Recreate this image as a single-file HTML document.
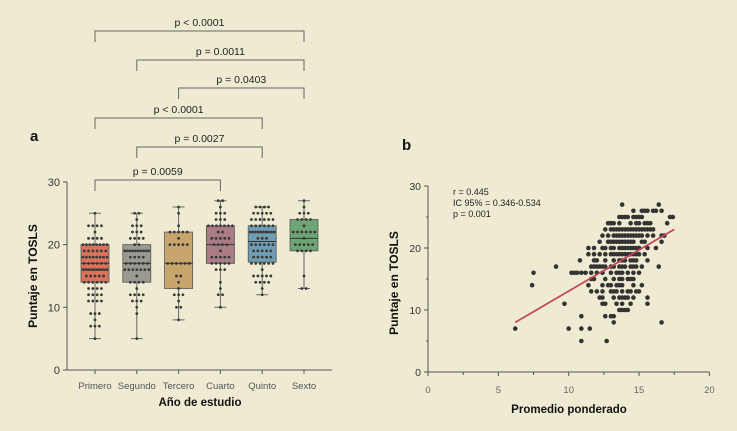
<!DOCTYPE html>
<html><head><meta charset="utf-8"><style>
html,body{margin:0;padding:0;background:#efebd3;}
svg{display:block;font-family:"Liberation Sans",sans-serif;}
</style></head><body>
<svg id="c" width="737" height="431" viewBox="0 0 737 431">
<rect width="737" height="431" fill="#efebd3"/>
<text x="30" y="141" font-size="15" font-weight="bold" fill="#111">a</text>
<text x="402" y="150" font-size="15" font-weight="bold" fill="#111">b</text>
<text transform="translate(37,276) rotate(-90)" text-anchor="middle" font-size="12" font-weight="bold" fill="#111">Puntaje en TOSLS</text>
<text x="200" y="406" text-anchor="middle" font-size="11.5" font-weight="bold" fill="#111">Año de estudio</text>
<text transform="translate(398,283) rotate(-90)" text-anchor="middle" font-size="12" font-weight="bold" fill="#111">Puntaje en TOSLS</text>
<text x="569" y="413" text-anchor="middle" font-size="11.5" font-weight="bold" fill="#111">Promedio ponderado</text>
<g id="A"></g><g id="B"></g>
<text x="453" y="195" font-size="9" fill="#222">r = 0.445</text>
<text x="453" y="206" font-size="9" fill="#222">IC 95% = 0.346-0.534</text>
<text x="453" y="217" font-size="9" fill="#222">p = 0.001</text>
</svg>
<script>
const categories=["Primero","Segundo","Tercero","Cuarto","Quinto","Sexto"];
const boxColors=["#d9735c","#9b9a92","#c9a56e","#a97d83","#6f9db3","#6ea574"];
const q1=[14,14,13,17,17.2,19];
const median=[17,17,17,20,20.5,21];
const q3=[20,20,22,23,23,24];
const whiskMin=[5,5,8,10,12,13];
const whiskMax=[25,25,26,27,26,27];
const dotCounts=[
 [[25,1],[23,4],[22,1],[21,4],[20,8],[19,6],[18,8],[17,6],[16,10],[15,5],[14,6],[13,4],[12,4],[11,4],[9,3],[8,1],[7,3],[5,1]],
 [[25,2],[24,1],[23,3],[22,3],[21,4],[20,2],[19,10],[18,4],[17,6],[16,7],[15,1],[14,4],[13,1],[12,4],[11,3],[10,1],[9,1],[5,1]],
 [[26,1],[25,1],[23,1],[22,5],[21,1],[20,5],[17,6],[15,2],[14,1],[13,1],[12,3],[11,1],[10,2],[8,1]],
 [[27,2],[26,1],[25,3],[24,3],[23,7],[22,2],[21,5],[20,4],[19,1],[18,5],[17,5],[16,3],[14,1],[13,1],[12,2],[10,1]],
 [[26,4],[25,5],[24,6],[23,6],[22,10],[21,3],[20,6],[19,5],[18,5],[17,6],[16,1],[15,5],[14,4],[13,1],[12,1]],
 [[27,1],[26,1],[25,3],[24,4],[23,1],[22,6],[21,1],[20,5],[19,4],[15,1],[13,2]]
];
const pLabels=["p < 0.0001","p = 0.0011","p = 0.0403","p < 0.0001","p = 0.0027","p = 0.0059"];
const pFrom=[0,1,2,0,1,0];
const pTo=[5,5,5,4,4,3];
const yTicksA=[0,10,20,30];
const scatterRows=[
[27,[13.8,16.4]],
[26,[14.6,15.2,15.4,15.6,16.0,16.2,16.6]],
[25,[13.6,13.8,14.0,14.2,14.6,14.8,15.0,15.2,17.2,17.4]],
[24,[12.8,13.0,13.2,13.6,14.4,14.8,15.0,15.4,15.6,15.8,17.0]],
[23,[12.6,13.0,13.2,13.4,13.6,13.8,14.0,14.2,14.4,14.6,14.8,15.0,15.2,15.4,15.6,15.8,16.0]],
[22,[12.4,12.8,13.2,13.4,13.6,13.8,14.0,14.2,14.4,14.6,14.8,15.0,15.2,15.6,16.0,16.6,16.8]],
[21,[12.2,12.8,13.0,13.2,13.4,13.6,13.8,14.0,14.2,14.4,14.6,15.2,15.4,16.6]],
[20,[11.4,11.8,12.4,12.6,13.0,13.2,13.6,13.8,14.0,14.2,14.4,14.6,14.8,15.0,15.6,16.2]],
[19,[11.4,11.8,12.2,12.6,13.0,13.2,13.4,13.6,13.8,14.0,14.2,14.4,14.6,14.8,15.0,15.4]],
[18,[10.8,11.8,12.0,12.6,13.2,13.6,13.8,14.0,14.4,14.6,14.8,15.6]],
[17,[9.1,11.6,11.8,12.0,12.2,12.4,12.6,13.0,13.2,13.6,13.8,14.0,14.4,14.6,14.8,15.2,16.4]],
[16,[7.5,10.2,10.4,10.6,10.9,11.2,11.6,12.0,12.4,13.0,13.4,13.6,13.8,14.2,14.6,15.0]],
[15,[11.6,11.8,12.6,13.2,13.6,13.8,14.2,14.4,14.6]],
[14,[7.4,11.4,12.4,12.8,13.0,13.4,13.6,13.8,14.6,15.2]],
[13,[11.6,12.0,12.4,13.0,13.2,13.4,13.8,14.2,14.4,14.8,15.0]],
[12,[12.2,12.4,13.2,13.6,13.8,14.0,14.2,14.6,15.6]],
[11,[9.7,12.4,12.6,13.4,13.8,14.4,15.6]],
[10,[13.6,13.8,14.0,14.2]],
[9,[10.9,12.6,13.0,13.2]],
[8,[13.2,16.6]],
[7,[6.2,10.0,10.9,11.5]],
[5,[10.9,12.7]]
];
const fitX=[6.2,17.5];
const fitY=[8,23];
const xTicksB=[0,5,10,15,20];
const yTicksB=[0,10,20,30];

const NS="http://www.w3.org/2000/svg";
function mk(p,t,a){const e=document.createElementNS(NS,t);for(const k in a)e.setAttribute(k,a[k]);p.appendChild(e);return e;}
const A=document.getElementById('A');
const yA=v=>370-v*6.27;
const xA=i=>95+i*41.8;
let ax=mk(A,'path',{d:'M67,'+yA(30)+'V370H332',stroke:'#555',fill:'none','stroke-width':1});


yTicksA.forEach(t=>{
 const l=mk(A,'line',{x1:63,x2:67,y1:yA(t),y2:yA(t),stroke:'#555'});
 
 
 const tx=mk(A,'text',{x:60,y:yA(t)+4,'text-anchor':'end','font-size':11,fill:'#333'});tx.textContent=t;
 
 
});
categories.forEach((c,i)=>{
 const x=xA(i),w=28;
 const tk=mk(A,'line',{x1:x,x2:x,y1:370,y2:374,stroke:'#555'});
 
 
 const lb=mk(A,'text',{x:x,y:389,'text-anchor':'middle','font-size':9.5,fill:'#555'});lb.textContent=c;
 
 
 const wl=mk(A,'path',{d:`M${x},${yA(whiskMax[i])}V${yA(q3[i])}M${x},${yA(q1[i])}V${yA(whiskMin[i])}M${x-6},${yA(whiskMax[i])}H${x+6}M${x-6},${yA(whiskMin[i])}H${x+6}`,stroke:'#666',fill:'none'});
 
 
 const b=mk(A,'rect',{x:x-w/2,y:yA(q3[i]),width:w,height:yA(q1[i])-yA(q3[i]),fill:boxColors[i],stroke:'#555','stroke-width':0.8});
 
 
 const m=mk(A,'line',{x1:x-w/2,x2:x+w/2,y1:yA(median[i]),y2:yA(median[i]),stroke:'#333','stroke-width':1});
 
 
 dotCounts[i].forEach(([v,n])=>{
  const sp=n>1?Math.min(4.3,24/(n-1)):0;
  for(let k=0;k<n;k++){
   const d=mk(A,'circle',{cx:x+(k-(n-1)/2)*sp,cy:yA(v),r:1.4,fill:'#3a3a3a'});
   
   
  }
 });
});
const brY=[31,60,88,118,147,180];
pLabels.forEach((p,i)=>{
 const x1=xA(pFrom[i]),x2=xA(pTo[i]),y=brY[i];
 const br=mk(A,'path',{d:`M${x1},${y+11}V${y}H${x2}V${y+11}`,stroke:'#666',fill:'none'});
 
 
 const t=mk(A,'text',{x:(x1+x2)/2,y:y-5,'text-anchor':'middle','font-size':10.5,fill:'#222'});t.textContent=p;
 
 
});
const B=document.getElementById('B');
const xB=v=>428+v*14.07;
const yB=v=>372-v*6.2;
let bx=mk(B,'path',{d:`M428,${yB(30)}V372H${xB(20)}`,stroke:'#555',fill:'none'});


yTicksB.forEach(t=>{
 const l=mk(B,'line',{x1:424,x2:428,y1:yB(t),y2:yB(t),stroke:'#555'});
 
 
 if(t<30){const l2=mk(B,'line',{x1:426,x2:428,y1:yB(t+5),y2:yB(t+5),stroke:'#555'});
 
 }
 const tx=mk(B,'text',{x:421,y:yB(t)+4,'text-anchor':'end','font-size':10.5,fill:'#333'});tx.textContent=t;
 
 
});
xTicksB.forEach(t=>{
 const l=mk(B,'line',{x1:xB(t),x2:xB(t),y1:372,y2:376,stroke:'#555'});
 
 
 if(t<20){const l2=mk(B,'line',{x1:xB(t+2.5),x2:xB(t+2.5),y1:372,y2:375,stroke:'#555'});
 
 }
 const tx=mk(B,'text',{x:xB(t),y:393,'text-anchor':'middle','font-size':9.5,fill:'#666'});tx.textContent=t;
 
 
});
scatterRows.forEach(([y,xs])=>xs.forEach(x=>{
 const d=mk(B,'circle',{cx:xB(x),cy:yB(y),r:2.3,fill:'#333'});
 
 
}));
const fl=mk(B,'line',{x1:xB(fitX[0]),y1:yB(fitY[0]),x2:xB(fitX[1]),y2:yB(fitY[1]),stroke:'#c0485a','stroke-width':1.8});


</script>
</body></html>
